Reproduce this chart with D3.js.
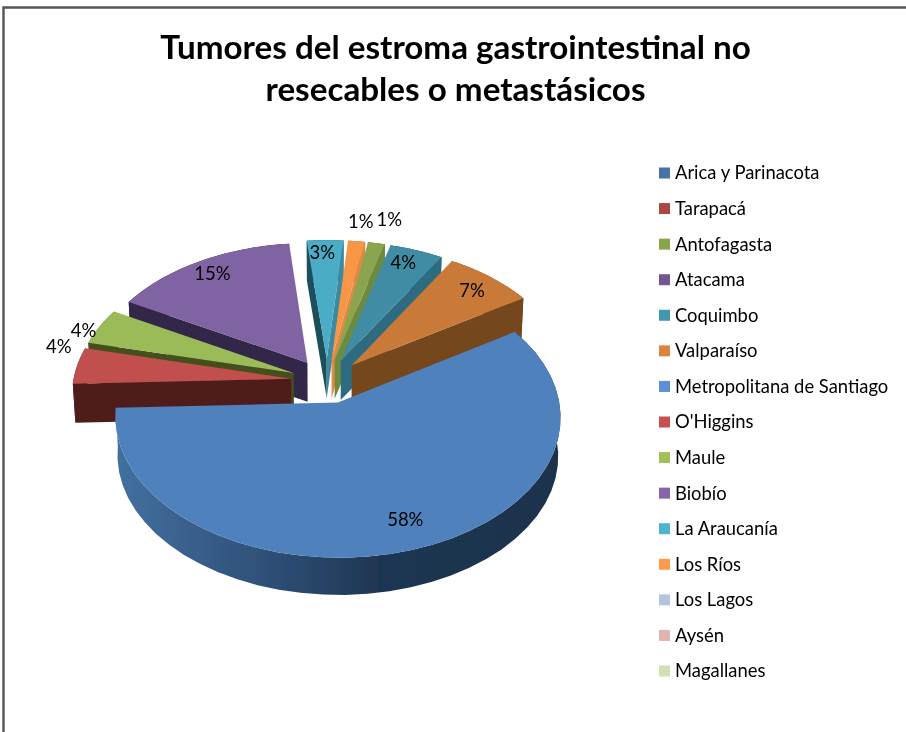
<!DOCTYPE html>
<html lang="es">
<head>
<meta charset="utf-8">
<script src="https://cdn.jsdelivr.net/npm/d3@7"></script>
<style>
html,body{margin:0;padding:0;background:#fff;}
svg{display:block;}
text{font-family:Lato,"Open Sans",sans-serif;fill:#000;}
</style>
</head>
<body>
<div id="chart"></div>
<script>
const titleLines = ["Tumores del estroma gastrointestinal no", "resecables o metastásicos"];
const regions = ["Arica y Parinacota","Tarapacá","Antofagasta","Atacama","Coquimbo","Valparaíso","Metropolitana de Santiago","O'Higgins","Maule","Biobío","La Araucanía","Los Ríos","Los Lagos","Aysén","Magallanes"];
const shares = [0,0,1.4,0,4.4,7.4,58.3,4.3,4.3,15.3,3.0,1.4,0,0,0];
const topColors = ["#4f81bd","#c0504d","#8aa54e","#71588f","#3f8ca5","#c97a38","#4f81bd","#c0504d","#9bbb59","#8064a2","#4bacc6","#f79646","#b3c4e0","#e2b3b3","#cfe0b5"];
const legendColors = ["#4572a7","#aa4643","#89a54e","#71588f","#4198af","#db843d","#5b8fd3","#c8504f","#a2c05a","#8666ab","#4fb2cf","#fd9b4c","#b3c4e0","#e2b3b3","#cfe0b5"];
const wallStartColors = ["#26446a","#4f1e1c","#48592a","#33264a","#23505f","#74461f","#1c3350","#4f1e1c","#45501f","#33264a","#1f4f5c","#a85f28","#6a7c96","#8a6a6a","#84956f"];
const wallEndColors = ["#26446a","#6f2a28","#6c8a40","#4a3a64","#2f6b80","#74461f","#1c3350","#4f1e1c","#45501f","#33264a","#3a8aa0","#e08a44","#6a7c96","#8a6a6a","#84956f"];
const labelRadii = [1,1,1.235,1,0.87,0.85,0.82,1.126,1.06,0.87,0.89,1.19,1,1,1];
const labelTurns = [0,0,1,0,-1.5,0.5,-2.5,7,-3,0,-1,0,0,0,0];

const width = 906, height = 732;
const rad = d => d * Math.PI / 180;
const pieStart = 10;

// Perspective view of the tilted pie
const radius = 218, flat = 135, depthK = 0.1, thick = 39, shrink = 0.99;
const cx = 327, cy = 381, explode = 0.165;
const px = d3.scaleLinear().domain([0,1]).range([cx, cx + radius]);
const py = d3.scaleLinear().domain([0,1]).range([cy, cy + flat]);
function project(gx, gy, level) {
  const p = 1 / (1 - depthK * gy);
  const x = px(gx * p), y = py(gy * p);
  if (!level) return [x, y];
  return [cx + (x - cx) * shrink, cy + (y - cy) * shrink + thick];
}

const svg = d3.select("#chart").append("svg").attr("width", width).attr("height", height);
const defs = svg.append("defs");
defs.append("filter").attr("id","soft").attr("x","-5%").attr("y","-5%").attr("width","110%").attr("height","110%")
  .append("feGaussianBlur").attr("stdDeviation",0.45);
const grad = defs.append("linearGradient").attr("id","metroRim").attr("gradientUnits","userSpaceOnUse")
  .attr("x1",113).attr("x2",559).attr("y1",0).attr("y2",0);
[[0,"#41709f"],[0.1,"#3e6795"],[0.4,"#2b4a70"],[0.6,"#1f3652"],[1,"#1c324d"]].forEach(s =>
  grad.append("stop").attr("offset",s[0]).attr("stop-color",s[1]));

const root = svg.append("g").attr("filter","url(#soft)");

// Frame
root.append("path").attr("d",`M3.5,${height}V7.5H${width}`).attr("fill","none").attr("stroke","#555").attr("stroke-width",2.4);

// Title
root.append("g").selectAll("text").data(titleLines).join("text")
  .attr("x",455.5).attr("y",(d,i)=>59+i*42).attr("text-anchor","middle")
  .attr("font-size",33.2).attr("font-weight",700).text(d=>d);

// Slices
const pie = d3.pie().value(d=>d).sort(null).startAngle(rad(pieStart)).endAngle(rad(pieStart+360));
const arcs = pie(shares).map((a,i)=>({...a,i})).filter(a=>a.value>0);
const lineGen = d3.line().curve(d3.curveLinear);
const area2 = pts => d3.polygonArea(pts);

function sliceParts(a){
  const mid = (a.startAngle+a.endAngle)/2;
  const ox = explode*Math.sin(mid), oy = -explode*Math.cos(mid);
  const at = (ang,r,level) => project(ox + r*Math.sin(ang), oy - r*Math.cos(ang), level);
  const angles = d3.range(0,41).map(k=>a.startAngle+(a.endAngle-a.startAngle)*k/40);
  const topArc = angles.map(t=>at(t,1,0));
  const botArc = angles.map(t=>at(t,1,1));
  const apexT = at(0,0,0), apexB = at(0,0,1);
  return {mid,at,topArc,botArc,apexT,apexB};
}

// back to front
const drawOrder = ["Biobío","Maule","O'Higgins","La Araucanía","Los Ríos","Antofagasta","Coquimbo","Valparaíso","Metropolitana de Santiago"];
const pieG = root.append("g");
const ordered = drawOrder.map(n=>arcs.find(a=>regions[a.i]===n));
ordered.forEach(a=>{
  const s = sliceParts(a), g = pieG.append("g");
  // outer rim
  const rim = s.topArc.concat(s.botArc.slice().reverse());
  g.append("path").attr("d",lineGen(rim)+"Z")
    .attr("fill", regions[a.i]==="Metropolitana de Santiago" ? "url(#metroRim)" : wallStartColors[a.i]);
  // radial walls: keep only those facing the viewer
  const wStart = [s.apexT, s.topArc[0], s.botArc[0], s.apexB];
  const wEnd = [s.apexT, s.topArc[40], s.botArc[40], s.apexB];
  if (area2(wStart) > 0) g.append("path").attr("d",lineGen(wStart)+"Z").attr("fill",wallStartColors[a.i]);
  if (area2(wEnd) < 0) g.append("path").attr("d",lineGen(wEnd)+"Z").attr("fill",wallEndColors[a.i]);
  // top
  g.append("path").attr("d",lineGen([s.apexT].concat(s.topArc))+"Z").attr("fill",topColors[a.i]);
});

// Percent labels
const total = d3.sum(shares), pct = d3.format(".0%");
root.append("g").selectAll("text").data(arcs).join("text")
  .attr("text-anchor","middle").attr("dy","0.35em").attr("font-size",18.5)
  .attr("transform",a=>{
    const s = sliceParts(a);
    const p = s.at(s.mid+rad(labelTurns[a.i]),labelRadii[a.i],0);
    return `translate(${p[0]},${p[1]})`;
  })
  .text(a=>pct(a.value/total));

// Legend
const rowY = d3.scaleLinear().domain([0,14]).range([173,671]);
const leg = root.append("g").selectAll("g").data(regions).join("g")
  .attr("transform",(d,i)=>`translate(659,${rowY(i)})`);
leg.append("rect").attr("x",0).attr("y",-5.5).attr("width",11).attr("height",11)
  .attr("fill",(d,i)=>legendColors[i]);
leg.append("text").attr("x",16).attr("dy","0.35em").attr("font-size",18.4).text(d=>d);
</script>
</body>
</html>
